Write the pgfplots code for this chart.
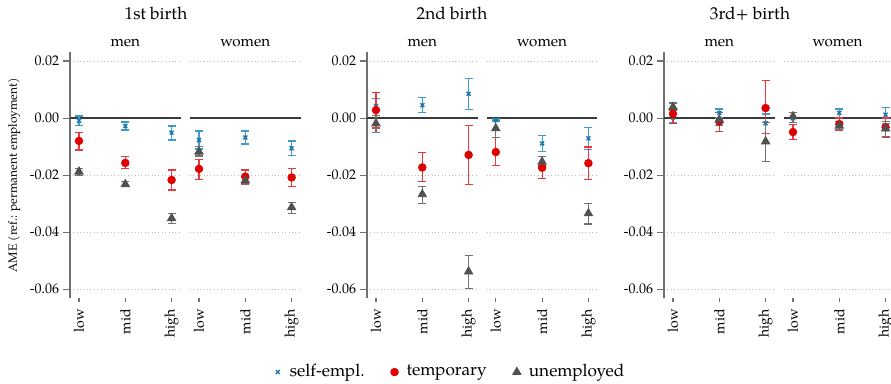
\documentclass[border=0pt]{standalone}
\usepackage{pgfplots}
\pgfplotsset{compat=1.18}
\usepackage{pgfplotstable}
\usepackage{fontspec}
\setmainfont{texgyrepagella}[Extension=.otf, UprightFont=*-regular, BoldFont=*-bold, ItalicFont=*-italic, BoldItalicFont=*-bolditalic]

\definecolor{seC}{HTML}{1B75A6}
\definecolor{seE}{HTML}{3E9DC8}
\definecolor{tpC}{HTML}{E00000}
\definecolor{tpE}{HTML}{E8393C}
\definecolor{unC}{HTML}{505050}
\definecolor{unE}{HTML}{727272}
\definecolor{axC}{HTML}{707070}
\definecolor{zeroC}{HTML}{3A3A3A}

% x se selo sehi tp tplo tphi un unlo unhi
\pgfplotstableread{
x se selo sehi tp tplo tphi un unlo unhi
0 -0.0009 -0.0026 0.0007 -0.0080 -0.0112 -0.0050 -0.0188 -0.0200 -0.0178
1 -0.0028 -0.0042 -0.0014 -0.0157 -0.0178 -0.0134 -0.0232 -0.0241 -0.0223
2 -0.0051 -0.0077 -0.0028 -0.0217 -0.0252 -0.0182 -0.0351 -0.0369 -0.0334
}\pAmen
\pgfplotstableread{
x se selo sehi tp tplo tphi un unlo unhi
0 -0.0077 -0.0108 -0.0045 -0.0178 -0.0215 -0.0145 -0.0118 -0.0133 -0.0100
1 -0.0068 -0.0091 -0.0045 -0.0205 -0.0229 -0.0182 -0.0219 -0.0234 -0.0209
2 -0.0106 -0.0132 -0.0080 -0.0208 -0.0240 -0.0176 -0.0313 -0.0334 -0.0295
}\pAwomen
\pgfplotstableread{
x se selo sehi tp tplo tphi un unlo unhi
0 0.0042 0.0010 0.0070 0.0028 -0.0035 0.0091 -0.0019 -0.0051 0.0010
1 0.0045 0.0019 0.0073 -0.0173 -0.0223 -0.0121 -0.0267 -0.0299 -0.0240
2 0.0085 0.0031 0.0139 -0.0129 -0.0232 -0.0027 -0.0538 -0.0597 -0.0482
}\pBmen
\pgfplotstableread{
x se selo sehi tp tplo tphi un unlo unhi
0 -0.0007 -0.0010 -0.0003 -0.0119 -0.0165 -0.0069 -0.0036 -0.0068 -0.0008
1 -0.0089 -0.0116 -0.0062 -0.0174 -0.0213 -0.0135 -0.0153 -0.0168 -0.0135
2 -0.0071 -0.0110 -0.0032 -0.0158 -0.0215 -0.0101 -0.0334 -0.0371 -0.0299
}\pBwomen
\pgfplotstableread{
x se selo sehi tp tplo tphi un unlo unhi
0 0.0002 -0.0015 0.0027 0.0015 -0.0018 0.0053 0.0039 0.0027 0.0053
1 0.0018 0.0000 0.0032 -0.0012 -0.0047 0.0020 -0.0006 -0.0027 0.0020
2 -0.0018 -0.0053 0.0014 0.0035 -0.0053 0.0131 -0.0082 -0.0152 -0.0015
}\pCmen
\pgfplotstableread{
x se selo sehi tp tplo tphi un unlo unhi
0 0.0000 -0.0015 0.0020 -0.0049 -0.0076 -0.0023 0.0006 -0.0015 0.0020
1 0.0018 0.0000 0.0032 -0.0021 -0.0043 0.0000 -0.0027 -0.0039 -0.0012
2 0.0012 -0.0018 0.0037 -0.0032 -0.0068 0.0000 -0.0037 -0.0064 -0.0012
}\pCwomen

\pgfplotsset{
  panel/.style={
    scale only axis, width=55.3pt, height=123pt,
    xmin=-0.194, xmax=2.194, ymin=-0.06315, ymax=0.02305,
    enlargelimits=false, clip=false,
    scaled y ticks=false, scaled x ticks=false,
    xtick={0,1,2}, xticklabels={low,mid,high},
    xticklabel style={rotate=90, anchor=east, inner sep=1pt, font=\fontsize{7}{8}\selectfont},
    ytick={-0.06,-0.04,-0.02,0,0.02},
    ymajorgrids, grid style={color=gray!55, line width=0.45pt, dash pattern=on 0.5pt off 1.2pt},
    axis x line*=bottom, x axis line style={draw=none},
    axis y line*=left,
    tick align=outside,
    xtick style={color=axC, line width=0.55pt, /pgfplots/major tick length=2pt},
    ytick style={color=axC, line width=0.55pt, /pgfplots/major tick length=3.3pt},
    /pgf/number format/assume math mode=true,
    yticklabel style={/pgf/number format/.cd, fixed, fixed zerofill, precision=2, /tikz/.cd, font=\fontsize{7}{8}\selectfont, inner sep=1pt},
    every axis title shift=0pt,
    title style={at={(0.5,1)}, anchor=base, yshift=3.15pt, font=\fontsize{7.6}{9}\selectfont},
  },
  menpanel/.style={panel, y axis line style={color=axC, line width=0.65pt}},
  womenpanel/.style={panel, y axis line style={draw=none}, ytick style={draw=none}, yticklabels={}},
  ebar/.style={error bars/.cd, y dir=both, y explicit,
     error bar style={color=#1, line width=0.6pt},
     error mark options={rotate=90, mark size=2pt, color=#1, line width=0.6pt}},
}

\newcommand{\zeroline}[1]{\addplot[forget plot, color=zeroC, line width=0.7pt] coordinates {(-0.194,0) (#1,0)};}
\newcommand{\threeseries}[1]{%
  \addplot[only marks, mark=x, mark size=1.4pt, color=seC, mark options={line width=0.7pt}, ebar=seE]
    table[x=x, y=se, y error plus expr=\thisrow{sehi}-\thisrow{se}, y error minus expr=\thisrow{se}-\thisrow{selo}] {#1};
  \addplot[only marks, mark=*, mark size=1.9pt, color=tpC, ebar=tpE]
    table[x=x, y=tp, y error plus expr=\thisrow{tphi}-\thisrow{tp}, y error minus expr=\thisrow{tp}-\thisrow{tplo}] {#1};
  \addplot[only marks, mark=triangle*, mark size=2.4pt, color=unC, ebar=unE]
    table[x=x, y=un, y error plus expr=\thisrow{unhi}-\thisrow{un}, y error minus expr=\thisrow{un}-\thisrow{unlo}] {#1};
}

\begin{document}
\begin{tikzpicture}
\path[use as bounding box] (0,0) rectangle (445.5pt,-192pt);

% panel 1
\begin{axis}[menpanel, title={men}, at={(35pt,-149.15pt)}, anchor=south west]
\zeroline{2.194}
\threeseries{\pAmen}
\end{axis}
\begin{axis}[womenpanel, title={women}, at={(95pt,-149.15pt)}, anchor=south west]
\zeroline{2.194}
\threeseries{\pAwomen}
\end{axis}

% panel 2
\begin{axis}[menpanel, title={men}, at={(183.5pt,-149.15pt)}, anchor=south west,
  legend style={draw=none, fill=none, at={(0.76,-0.30)}, anchor=center, legend columns=3,
    font=\fontsize{8.6}{10}\selectfont, /tikz/every even column/.append style={column sep=11pt}},
  legend cell align=left,
  legend image code/.code={\path[draw=none] (-2pt,0pt) -- (4pt,0pt); \draw[#1] plot[only marks] coordinates {(0pt,0pt)};}]
\zeroline{2.194}
\threeseries{\pBmen}
\legend{self-empl.,temporary,unemployed}
\end{axis}
\begin{axis}[womenpanel, title={women}, at={(243.4pt,-149.15pt)}, anchor=south west]
\zeroline{2.194}
\threeseries{\pBwomen}
\end{axis}

% panel 3
\begin{axis}[menpanel, title={men}, at={(332pt,-149.15pt)}, anchor=south west]
\zeroline{2.194}
\threeseries{\pCmen}
\end{axis}
\begin{axis}[womenpanel, title={women}, at={(392pt,-149.15pt)}, anchor=south west, width=53.5pt, xmax=2.117]
\zeroline{2.117}
\threeseries{\pCwomen}
\end{axis}

\node[anchor=base, font=\fontsize{8.6}{10}\selectfont] at (78pt,-10pt) {1st birth};
\node[anchor=base, font=\fontsize{8.6}{10}\selectfont] at (226pt,-10pt) {2nd birth};
\node[anchor=base, font=\fontsize{8.6}{10}\selectfont] at (375pt,-10pt) {3rd+ birth};
\node[rotate=90, font=\fontsize{6}{7}\selectfont] at (7pt,-87.6pt) {AME (ref.: permanent employment)};
\end{tikzpicture}
\end{document}
